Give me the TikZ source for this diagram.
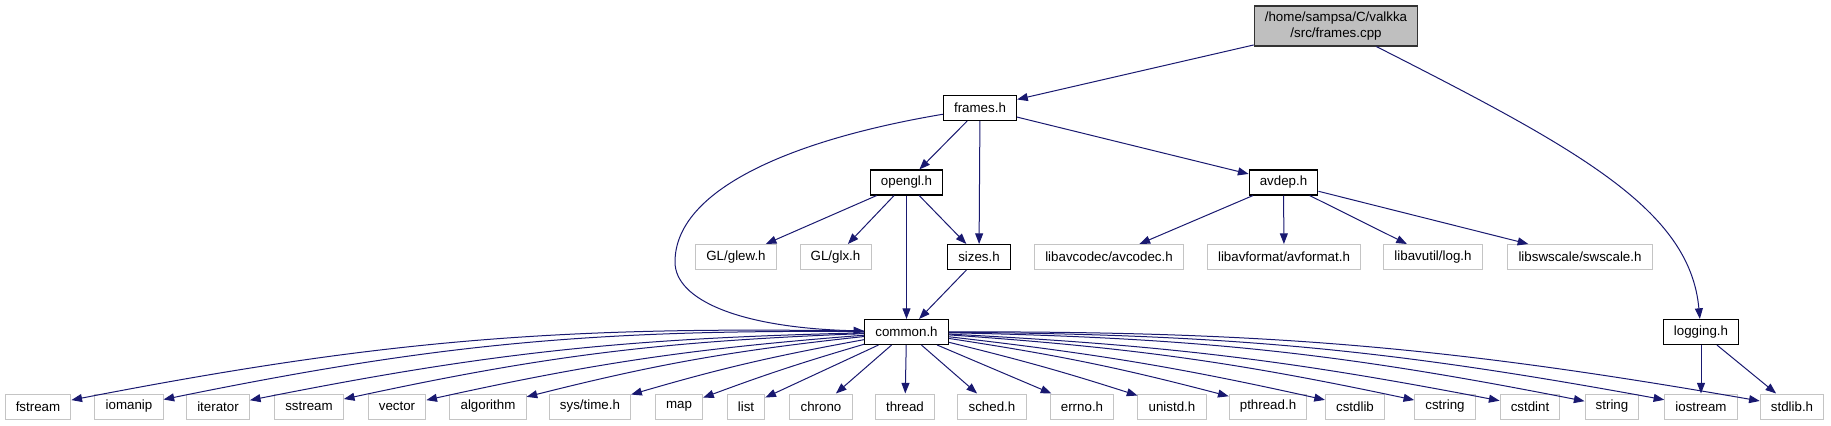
\documentclass[tikz,border=0pt]{standalone}
\usepackage{fontspec}
\setmainfont{Liberation Sans}
\usetikzlibrary{arrows.meta}
\definecolor{edgeblue}{HTML}{191970}
\definecolor{greyfill}{HTML}{BFBFBF}
\definecolor{greyline}{HTML}{C4C4C4}

\begin{document}
\begin{tikzpicture}[
    x=0.75pt, y=-0.75pt,
    >={Triangle[length=8pt,width=6pt]},
    box/.style={draw=black, fill=white, line width=0.8pt, inner xsep=8pt, inner ysep=0pt,
        minimum height=18.75pt, font=\fontsize{10}{12}\selectfont},
    extbox/.style={box, draw=greyline, line width=0.75pt},
    rootbox/.style={box, fill=greyfill, draw=black!80, align=center, minimum height=30pt},
    dep/.style={->, edgeblue, line width=0.75pt}
]

    % Rank heights (pixels from the top)
    \def\yA{26}
    \def\yB{108}
    \def\yC{182.5}
    \def\yD{257}
    \def\yE{332}
    \def\yF{406.5}

    \useasboundingbox (0,0) rectangle (1831,425);

    % Source file and its direct includes
    \node[rootbox] (cpp) at (1336,\yA) {/home/sampsa/C/valkka\\/src/frames.cpp};
    \node[box] (frames) at (980,\yB) {frames.h};
    \node[box] (opengl) at (906.5,\yC) {opengl.h};
    \node[box] (avdep) at (1283.5,\yC) {avdep.h};

    % Third rank
    \node[extbox] (glew) at (736,\yD) {GL/glew.h};
    \node[extbox] (glx) at (835.5,\yD) {GL/glx.h};
    \node[box] (sizes) at (979,\yD) {sizes.h};
    \node[extbox] (avcodec) at (1109,\yD) {libavcodec/avcodec.h};
    \node[extbox] (avformat) at (1284,\yD) {libavformat/avformat.h};
    \node[extbox] (avlog) at (1433,\yD) {libavutil/log.h};
    \node[extbox] (swscale) at (1580,\yD) {libswscale/swscale.h};

    % Fourth rank
    \node[box] (common) at (906.5,\yE) {common.h};
    \node[box] (logging) at (1701,\yE) {logging.h};

    % Standard headers
    \node[extbox] (fstream) at (38,\yF) {fstream};
    \node[extbox] (iomanip) at (129,\yF) {iomanip};
    \node[extbox] (iterator) at (218,\yF) {iterator};
    \node[extbox] (sstream) at (309,\yF) {sstream};
    \node[extbox] (vector) at (397,\yF) {vector};
    \node[extbox] (algorithm) at (488,\yF) {algorithm};
    \node[extbox] (systime) at (590,\yF) {sys/time.h};
    \node[extbox] (map) at (679,\yF) {map};
    \node[extbox] (list) at (746,\yF) {list};
    \node[extbox] (chrono) at (821,\yF) {chrono};
    \node[extbox] (thread) at (905,\yF) {thread};
    \node[extbox] (sched) at (992,\yF) {sched.h};
    \node[extbox] (errno) at (1082,\yF) {errno.h};
    \node[extbox] (unistd) at (1172,\yF) {unistd.h};
    \node[extbox] (pthread) at (1268,\yF) {pthread.h};
    \node[extbox] (cstdlib) at (1355,\yF) {cstdlib};
    \node[extbox] (cstring) at (1445,\yF) {cstring};
    \node[extbox] (cstdint) at (1530,\yF) {cstdint};
    \node[extbox] (string) at (1612,\yF) {string};
    \node[extbox] (iostream) at (1701,\yF) {iostream};
    \node[extbox] (stdlib) at (1792,\yF) {stdlib.h};

    % Edges from the source file
    \draw[dep] (cpp) -- (frames);
    \draw[dep] (cpp) .. controls (1580,150) and (1690,210) .. (logging);

    % Edges from frames.h
    \draw[dep] (frames) -- (opengl);
    \draw[dep] (frames) -- (sizes);
    \draw[dep] (frames) -- (avdep);
    \draw[dep] (frames) .. controls (790,140) and (675,190) .. (675,262)
        .. controls (675,300) and (740,328) .. (common);

    % Edges from opengl.h and sizes.h
    \foreach \n in {glew, glx, common, sizes}
        \draw[dep] (opengl) -- (\n);
    \draw[dep] (sizes) -- (common);

    % Edges from avdep.h
    \foreach \n in {avcodec, avformat, avlog, swscale}
        \draw[dep] (avdep) -- (\n);

    % Edges from logging.h
    \draw[dep] (logging) -- (iostream);
    \draw[dep] (logging) -- (stdlib);

    % Fan of edges from common.h (negative bends go left)
    \foreach \n/\b in {fstream/-6, iomanip/-6, iterator/-5, sstream/-5, vector/-4,
        algorithm/-4, systime/-3, map/-2, list/0, chrono/0, thread/0, sched/0,
        errno/0, unistd/2, pthread/3, cstdlib/3, cstring/4, cstdint/4, string/5,
        iostream/5, stdlib/5}
        \draw[dep] (common) to[bend left=\b] (\n);

\end{tikzpicture}
\end{document}
